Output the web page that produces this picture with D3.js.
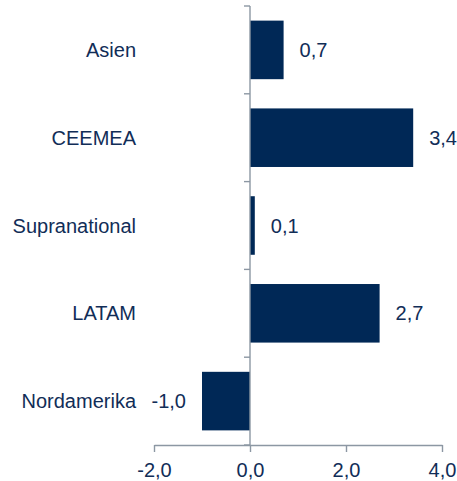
<!DOCTYPE html>
<html><head><meta charset="utf-8">
<script src="https://cdn.jsdelivr.net/npm/d3@7"></script>
<style>body{margin:0;background:#fff}svg{display:block}text{font-family:"Liberation Sans",Arial,sans-serif}</style>
</head><body>
<script>
const categories = ["Asien","CEEMEA","Supranational","LATAM","Nordamerika"];
const values = [0.7,3.4,0.1,2.7,-1.0];
const xTicks = [-2,0,2,4];

const W=457,H=481;
const barColor="#002856", textColor="#112d57", axisColor="#8c97a3";
const svg=d3.select("body").append("svg").attr("width",W).attr("height",H);
const x=d3.scaleLinear().domain([-2,4]).range([154,442]);
const y=d3.scaleBand().domain(categories).range([6,445]).paddingInner(0.333).paddingOuter(0.1665);
const fmt=v=>d3.format(".1f")(v).replace(".",",").replace("−","-");

svg.selectAll("rect.bar").data(categories).enter().append("rect")
  .attr("x",(d,i)=>x(Math.min(0,values[i])))
  .attr("width",(d,i)=>Math.abs(x(values[i])-x(0)))
  .attr("y",d=>y(d)).attr("height",y.bandwidth()).attr("fill",barColor);

// x axis
const xa=svg.append("g").attr("transform","translate(0,445)")
  .call(d3.axisBottom(x).tickValues(xTicks).tickFormat(fmt).tickSize(7).tickSizeOuter(0).tickPadding(11));
xa.select(".domain").attr("stroke",axisColor).attr("stroke-width",1.4);
xa.selectAll(".tick line").attr("stroke",axisColor).attr("stroke-width",1.4);
xa.selectAll("text").attr("font-size",20).attr("fill",textColor).style("font-family","'Liberation Sans',Arial,sans-serif");

// y axis at zero
const step=y.step();
const bounds=d3.range(categories.length+1).map(i=>y.range()[0]+i*step);
svg.append("line").attr("x1",x(0)).attr("x2",x(0)).attr("y1",6).attr("y2",445)
  .attr("stroke",axisColor).attr("stroke-width",1.4);
svg.selectAll("line.yt").data(bounds).enter().append("line")
  .attr("x1",x(0)-6).attr("x2",x(0)).attr("y1",d=>d).attr("y2",d=>d)
  .attr("stroke",axisColor).attr("stroke-width",1.4);

svg.selectAll("text.cat").data(categories).enter().append("text")
  .attr("x",136).attr("y",d=>y(d)+y.bandwidth()/2).attr("dy","0.35em")
  .attr("text-anchor","end").attr("font-size",20).attr("fill",textColor).text(d=>d);

svg.selectAll("text.val").data(categories).enter().append("text")
  .attr("x",(d,i)=>values[i]>=0? x(values[i])+16 : x(values[i])-16)
  .attr("text-anchor",(d,i)=>values[i]>=0?"start":"end")
  .attr("y",d=>y(d)+y.bandwidth()/2).attr("dy","0.35em")
  .attr("font-size",20).attr("fill",textColor).text((d,i)=>fmt(values[i]));
</script>
</body></html>
